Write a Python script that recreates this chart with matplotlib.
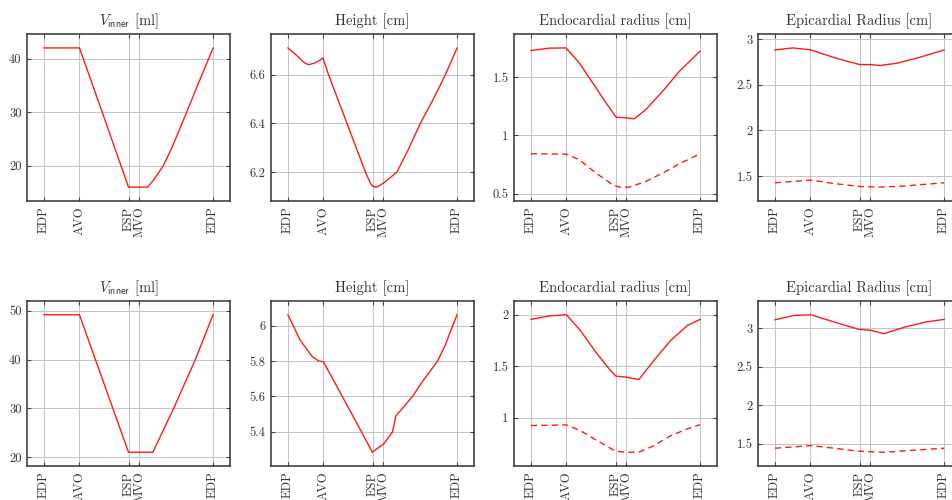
import matplotlib
matplotlib.use("Agg")
import matplotlib.pyplot as plt

plt.rcParams['font.family'] = 'serif'
plt.rcParams['font.serif'] = ['cmr10']
plt.rcParams['mathtext.fontset'] = 'cm'
plt.rcParams['axes.formatter.use_mathtext'] = True

# cardiac phases (normalized cycle time)
phase_names = ["EDP", "AVO", "ESP", "MVO", "EDP"]
phase_t = [0.0, 0.21, 0.50, 0.565, 1.0]

titles = [r"$V_{\mathsf{inner}}$ [ml]", "Height [cm]",
          "Endocardial radius [cm]", "Epicardial Radius [cm]"]

# ---- top row ----
vol1_t = [0.0, 0.21, 0.30, 0.40, 0.50, 0.614, 0.65, 0.706, 0.76, 0.844, 0.92, 1.0]
vol1 = [42.0, 42.0, 34.0, 25.0, 16.0, 16.0, 17.4, 20.0, 23.6, 30.0, 35.9, 42.0]

hgt1_t = [0.0, 0.05, 0.10, 0.122, 0.16, 0.19, 0.207, 0.24, 0.349, 0.458, 0.49,
          0.505, 0.525, 0.566, 0.60, 0.645, 0.71, 0.783, 0.86, 0.931, 1.0]
hgt1 = [6.71, 6.68, 6.648, 6.641, 6.648, 6.66, 6.669, 6.6, 6.4, 6.2, 6.15,
        6.14, 6.138, 6.155, 6.174, 6.2, 6.29, 6.4, 6.5, 6.6, 6.71]

endo1_t = [0.0, 0.108, 0.207, 0.286, 0.365, 0.444, 0.503, 0.565, 0.611,
           0.68, 0.779, 0.878, 1.0]
endo1 = [1.729, 1.749, 1.751, 1.623, 1.451, 1.28, 1.157, 1.151, 1.143,
         1.223, 1.38, 1.551, 1.723]
endo1_in_t = [0.0, 0.21, 0.286, 0.385, 0.483, 0.523, 0.582, 0.68, 0.779, 0.878, 1.0]
endo1_in = [0.843, 0.84, 0.791, 0.677, 0.577, 0.557, 0.557, 0.606, 0.677, 0.757, 0.843]

epi1_t = [0.0, 0.105, 0.214, 0.362, 0.501, 0.566, 0.62, 0.719, 0.857, 1.0]
epi1 = [2.88, 2.902, 2.88, 2.789, 2.72, 2.72, 2.709, 2.734, 2.80, 2.88]
epi1_in_t = [0.0, 0.214, 0.362, 0.501, 0.62, 0.758, 1.0]
epi1_in = [1.427, 1.456, 1.416, 1.387, 1.38, 1.391, 1.427]

# ---- bottom row ----
vol2_t = [0.0, 0.21, 0.50, 0.644, 0.767, 0.895, 1.0]
vol2 = [49.2, 49.2, 21.0, 21.0, 30.0, 40.0, 49.2]

hgt2_t = [0.0, 0.073, 0.143, 0.182, 0.21, 0.321, 0.434, 0.499, 0.568, 0.618,
          0.638, 0.68, 0.737, 0.80, 0.885, 0.93, 0.974, 1.0]
hgt2 = [6.062, 5.917, 5.826, 5.80, 5.795, 5.6, 5.4, 5.283, 5.332, 5.398,
        5.489, 5.535, 5.6, 5.69, 5.8, 5.89, 6.0, 6.062]

endo2_t = [0.0, 0.115, 0.21, 0.292, 0.391, 0.47, 0.502, 0.563, 0.638,
           0.727, 0.826, 0.925, 1.0]
endo2 = [1.955, 1.99, 2.0, 1.848, 1.621, 1.46, 1.405, 1.395, 1.372,
         1.557, 1.751, 1.896, 1.955]
endo2_in_t = [0.0, 0.21, 0.292, 0.391, 0.502, 0.569, 0.638, 0.727, 0.826, 0.925, 1.0]
endo2_in = [0.926, 0.932, 0.877, 0.78, 0.676, 0.667, 0.667, 0.731, 0.828, 0.893, 0.935]

epi2_t = [0.0, 0.113, 0.213, 0.352, 0.497, 0.567, 0.644, 0.769, 0.889, 1.0]
epi2 = [3.107, 3.163, 3.172, 3.077, 2.983, 2.97, 2.927, 3.013, 3.077, 3.112]
epi2_in_t = [0.0, 0.213, 0.352, 0.497, 0.65, 0.789, 1.0]
epi2_in = [1.444, 1.478, 1.444, 1.405, 1.392, 1.414, 1.444]

yticks = [
    [[20, 30, 40], [6.2, 6.4, 6.6], [0.5, 1, 1.5], [1.5, 2, 2.5, 3]],
    [[20, 30, 40, 50], [5.4, 5.6, 5.8, 6], [1, 1.5, 2], [1.5, 2, 2.5, 3]],
]

panels = [
    [[(vol1_t, vol1, '-')], [(hgt1_t, hgt1, '-')],
     [(endo1_t, endo1, '-'), (endo1_in_t, endo1_in, '--')],
     [(epi1_t, epi1, '-'), (epi1_in_t, epi1_in, '--')]],
    [[(vol2_t, vol2, '-')], [(hgt2_t, hgt2, '-')],
     [(endo2_t, endo2, '-'), (endo2_in_t, endo2_in, '--')],
     [(epi2_t, epi2, '-'), (epi2_in_t, epi2_in, '--')]],
]

text_c = '#333333'
fig = plt.figure(figsize=(9.52, 5.0), dpi=100)

lefts = [27, 271, 514, 758]
rows = [(34, 201), (301, 466)]
W, H = 952.0, 500.0

for r in range(2):
    top, bot = rows[r]
    for c in range(4):
        ax = fig.add_axes([lefts[c] / W, 1 - bot / H, 203 / W, (bot - top) / H])
        for t, y, ls in panels[r][c]:
            if ls == '--':
                ax.plot(t, y, color='#ff1a1a', lw=1.0, dashes=(4.5, 3))
            else:
                ax.plot(t, y, color='#ff1a1a', lw=1.0)
        ax.margins(0.1)
        ax.set_xticks(phase_t)
        ax.set_xticklabels(phase_names, rotation=90)
        ax.set_yticks(yticks[r][c])
        ax.set_yticklabels(['{:g}'.format(v) for v in yticks[r][c]])
        ax.grid(True, color='#c4c4c4', lw=0.7)
        ax.set_axisbelow(True)
        ax.tick_params(direction='in', length=3, width=0.8, color='#444444',
                       top=True, right=True, labelsize=9, labelcolor=text_c, pad=4)
        for s in ax.spines.values():
            s.set_color('#333333')
            s.set_linewidth(1.1)
        ax.set_title(titles[c], fontsize=10.5, color=text_c, pad=6)

fig.savefig("out.png", dpi=100)
